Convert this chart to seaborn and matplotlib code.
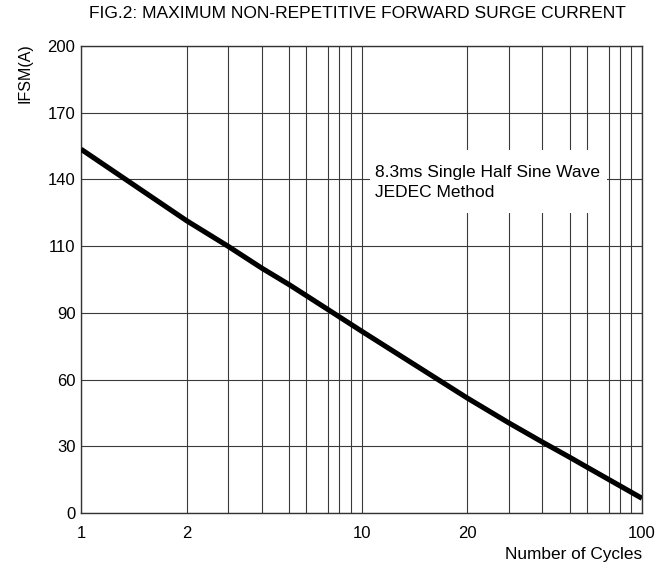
import numpy as np
import pandas as pd
import matplotlib
matplotlib.use("Agg")
import matplotlib.pyplot as plt
import seaborn as sns
from matplotlib.patches import Rectangle

# ---- data ----
cycles = [1, 2, 3, 4, 5, 6, 10, 20, 30, 40, 50, 60, 100]
ifsm = [153.6, 121.4, 109.9, 103.4, 98.4, 95.2, 81.8, 51.7, 40.5, 31.9, 25.0, 20.7, 6.6]

y_tick_values = [0, 30, 60, 90, 110, 140, 170, 200]
x_tick_values = [1, 2, 10, 20, 100]
x_grid_values = [1, 2, 3, 4, 5, 6, 7, 8, 9, 10, 20, 30, 40, 50, 60, 70, 80, 90, 100]
# relative position of 1..10 within one decade of the printed (hand drawn) axis
decade_fracs = [0.0, 0.377, 0.5255, 0.6447, 0.7432, 0.8027, 0.8812, 0.9215, 0.9608, 1.0]

title = "FIG.2: MAXIMUM NON-REPETITIVE FORWARD SURGE CURRENT"
note = "8.3ms Single Half Sine Wave\nJEDEC Method"
xlabel = "Number of Cycles"
ylabel = "IFSM(A)"

# ---- axis scales (piecewise, as printed) ----
grid_pos = np.array(decade_fracs + [1.0 + f for f in decade_fracs[1:]])
grid_val = np.array(x_grid_values, dtype=float)
y_pos = np.arange(len(y_tick_values), dtype=float)
y_val = np.array(y_tick_values, dtype=float)


def xf(v):
    return np.interp(v, grid_val, grid_pos)


def xi(p):
    return np.interp(p, grid_pos, grid_val)


def yf(v):
    return np.interp(v, y_val, y_pos)


def yi(p):
    return np.interp(p, y_pos, y_val)


sns.set_theme(style="white")
plt.rcParams["font.family"] = ["Liberation Sans", "DejaVu Sans"]

fig = plt.figure(figsize=(6.62, 5.69), dpi=100)
ax = fig.add_axes([81 / 662, 1 - 513 / 569, 561 / 662, 467 / 569])

ax.set_xscale("function", functions=(xf, xi))
ax.set_yscale("function", functions=(yf, yi))
ax.set_xlim(1, 100)
ax.set_ylim(0, 200)

df = pd.DataFrame({"cycles": cycles, "ifsm": ifsm})
sns.lineplot(data=df, x="cycles", y="ifsm", ax=ax, color="black",
             linewidth=3.7, zorder=3, solid_capstyle="butt")

ax.set_xticks(x_tick_values)
ax.set_xticklabels([str(v) for v in x_tick_values])
ax.set_xticks([v for v in x_grid_values if v not in x_tick_values], minor=True)
ax.set_yticks(y_tick_values)
ax.set_yticklabels([str(v) for v in y_tick_values])
ax.tick_params(axis="both", which="both", length=0, labelsize=12, colors="black")
ax.tick_params(axis="x", pad=9.5)
ax.tick_params(axis="y", pad=4)

ax.set_axisbelow(True)
ax.grid(True, which="both", axis="x", color="#3a3a3a", linewidth=0.8)
ax.grid(True, which="major", axis="y", color="#3a3a3a", linewidth=0.8)

for s in ax.spines.values():
    s.set_color("#333333")
    s.set_linewidth(1.0)

# white box that interrupts the grid behind the note
ax.add_patch(Rectangle((0.515, 0.642), 0.4225, 0.135, transform=ax.transAxes,
                       facecolor="white", edgecolor="none", zorder=1))
ax.text(0.524, 0.7077, note, transform=ax.transAxes, ha="left", va="center",
        fontsize=12.5, color="black", zorder=4, linespacing=1.42)

ax.set_title(title, fontsize=12.5, pad=20, color="black", x=0.492)
ax.set_xlabel(xlabel, loc="right", fontsize=12.4, color="black")
ax.xaxis.set_label_coords(1.0, -0.073)
ax.set_ylabel(ylabel, loc="top", fontsize=11.5, color="black")
ax.yaxis.set_label_coords(-0.087, 1.006)

fig.savefig("out.png", dpi=100)
